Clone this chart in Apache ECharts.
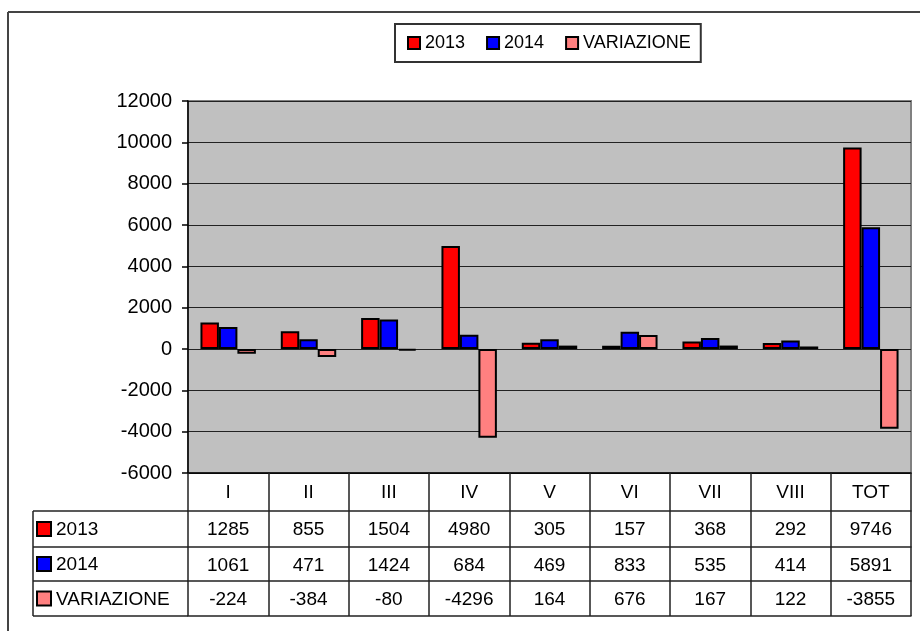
<!DOCTYPE html>
<html>
<head>
<meta charset="utf-8">
<script src="https://cdn.jsdelivr.net/npm/echarts@6/dist/echarts.min.js"></script>
<style>
html,body{margin:0;padding:0;background:#fff;}
#c{width:920px;height:631px;}
</style>
</head>
<body>
<div id="c"></div>
<script>
// ---- data ----
var categories = ['I','II','III','IV','V','VI','VII','VIII','TOT'];
var seriesNames = ['2013','2014','VARIAZIONE'];
var values2013 = [1285, 855, 1504, 4980, 305, 157, 368, 292, 9746];
var values2014 = [1061, 471, 1424, 684, 469, 833, 535, 414, 5891];
var valuesVar = [-224, -384, -80, -4296, 164, 676, 167, 122, -3855];
var yTicks = [-6000, -4000, -2000, 0, 2000, 4000, 6000, 8000, 10000, 12000];

// ---- layout / style ----
var FONT = '"Liberation Sans", Arial, sans-serif';
var colors = ['#ff0000', '#0000ff', '#ff8080'];
var G = {left: 188, right: 911, top: 101, bottom: 473};
var rowLines = [511, 547, 581, 616];
var tableLeft = 33;

var chart = echarts.init(document.getElementById('c'), null, {renderer: 'canvas'});

var rows = [values2013, values2014, valuesVar];

var xAxes = [{
  type: 'category',
  data: categories,
  position: 'bottom',
  gridIndex: 0,
  axisLine: {show: true, onZero: false, lineStyle: {color: '#000', width: 1.5}},
  axisTick: {show: true, interval: 0, length: rowLines[3] - G.bottom, lineStyle: {color: '#222', width: 1.5}},
  axisLabel: {show: true, interval: 0, margin: 10, fontSize: 19, color: '#000', fontFamily: FONT},
  splitLine: {show: false}
}];
for (var r = 0; r < 3; r++) {
  xAxes.push({
    type: 'category',
    data: rows[r].map(String),
    position: 'bottom',
    offset: rowLines[r] - G.bottom,
    axisLine: {show: true, onZero: false, lineStyle: {color: '#222', width: 1.5}},
    axisTick: {show: false},
    axisLabel: {show: true, interval: 0, margin: 9, fontSize: 19, color: '#000', fontFamily: FONT},
    splitLine: {show: false}
  });
}
xAxes.push({
  type: 'category',
  data: categories,
  position: 'bottom',
  offset: rowLines[3] - G.bottom,
  axisLine: {show: true, onZero: false, lineStyle: {color: '#222', width: 1.5}},
  axisTick: {show: false},
  axisLabel: {show: false},
  splitLine: {show: false}
});

var graphics = [];
// outer frame
graphics.push({type: 'line', shape: {x1: 8, y1: 12, x2: 920, y2: 12}, style: {stroke: '#444', lineWidth: 2}, silent: true});
graphics.push({type: 'line', shape: {x1: 8, y1: 12, x2: 8, y2: 631}, style: {stroke: '#444', lineWidth: 2}, silent: true});
// left column of the data table
for (var i = 0; i < rowLines.length; i++) {
  graphics.push({type: 'line', shape: {x1: tableLeft, y1: rowLines[i], x2: G.left, y2: rowLines[i]}, style: {stroke: '#222', lineWidth: 1.5}, silent: true});
}
graphics.push({type: 'line', shape: {x1: tableLeft, y1: rowLines[0], x2: tableLeft, y2: rowLines[3]}, style: {stroke: '#222', lineWidth: 1.5}, silent: true});
for (var s = 0; s < 3; s++) {
  var cy = (rowLines[s] + rowLines[s + 1]) / 2;
  graphics.push({type: 'rect', shape: {x: 37, y: cy - 7, width: 14, height: 14}, style: {fill: colors[s], stroke: '#000', lineWidth: 2}, silent: true});
  graphics.push({type: 'text', x: 56, y: cy + 1, style: {text: seriesNames[s], fontSize: 19, fontFamily: FONT, fill: '#000', verticalAlign: 'middle'}, silent: true});
}

var series = [];
for (var k = 0; k < 3; k++) {
  series.push({
    name: seriesNames[k],
    type: 'bar',
    xAxisIndex: 0,
    yAxisIndex: 0,
    data: rows[k],
    barWidth: '23%',
    barGap: '0%',
    itemStyle: {color: colors[k], borderColor: '#000', borderWidth: 2},
    emphasis: {disabled: true},
    animation: false
  });
}

chart.setOption({
  animation: false,
  backgroundColor: '#fff',
  textStyle: {fontFamily: FONT},
  legend: {
    data: seriesNames,
    left: 395,
    top: 24,
    orient: 'horizontal',
    borderColor: '#333',
    borderWidth: 2,
    padding: [10, 10, 10, 12],
    itemWidth: 12,
    itemHeight: 12,
    itemGap: 21,
    icon: 'rect',
    itemStyle: {borderColor: '#000', borderWidth: 2},
    textStyle: {fontSize: 18, color: '#000', fontFamily: FONT},
    selectedMode: false
  },
  grid: {
    left: G.left,
    right: 920 - G.right,
    top: G.top,
    bottom: 631 - G.bottom,
    show: true,
    backgroundColor: '#c0c0c0',
    borderColor: '#808080',
    borderWidth: 2,
    containLabel: false
  },
  xAxis: xAxes,
  yAxis: {
    type: 'value',
    min: yTicks[0],
    max: yTicks[yTicks.length - 1],
    interval: yTicks[1] - yTicks[0],
    axisLine: {show: true, lineStyle: {color: '#000', width: 1.5}},
    axisTick: {show: true, inside: false, length: 6, lineStyle: {color: '#000', width: 1.5}},
    axisLabel: {margin: 16, fontSize: 20, color: '#000', fontFamily: FONT, formatter: function (v) { return String(v); }},
    splitLine: {show: true, lineStyle: {color: '#222', width: 1.2}}
  },
  series: series,
  graphic: graphics
});
</script>
</body>
</html>
